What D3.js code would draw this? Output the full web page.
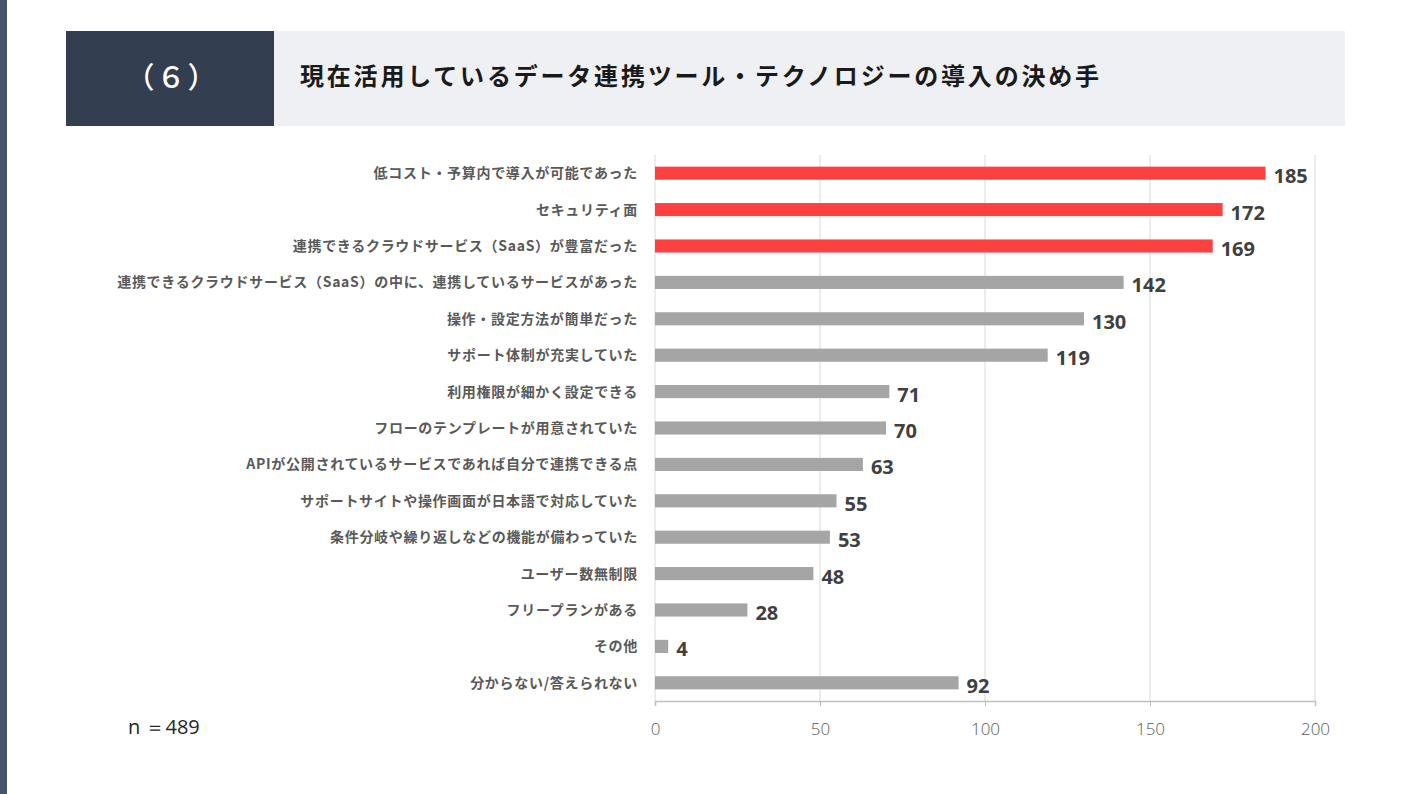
<!DOCTYPE html>
<html>
<head>
<meta charset="utf-8">
<script src="https://cdn.jsdelivr.net/npm/d3@7"></script>
<style>
  html, body { margin: 0; padding: 0; background: #fff; }
  svg { display: block; font-family: "Noto Sans CJK JP", "Noto Sans", sans-serif; }
</style>
</head>
<body>
<svg id="chart"></svg>
<script>
const CATEGORIES = [
  '低コスト・予算内で導入が可能であった',
  'セキュリティ面',
  '連携できるクラウドサービス（SaaS）が豊富だった',
  '連携できるクラウドサービス（SaaS）の中に、連携しているサービスがあった',
  '操作・設定方法が簡単だった',
  'サポート体制が充実していた',
  '利用権限が細かく設定できる',
  'フローのテンプレートが用意されていた',
  'APIが公開されているサービスであれば自分で連携できる点',
  'サポートサイトや操作画面が日本語で対応していた',
  '条件分岐や繰り返しなどの機能が備わっていた',
  'ユーザー数無制限',
  'フリープランがある',
  'その他',
  '分からない/答えられない'
];
const VALUES = [185, 172, 169, 142, 130, 119, 71, 70, 63, 55, 53, 48, 28, 4, 92];
const HIGHLIGHT = [true, true, true, false, false, false, false, false, false, false, false, false, false, false, false];
const X_TICKS = [0, 50, 100, 150, 200];
const TITLE_NO = '（６）';
const TITLE = '現在活用しているデータ連携ツール・テクノロジーの導入の決め手';
const N_LABEL = 'n ＝489';

const W = 1411, H = 794;
const plot = {left: 655, right: 1315, top: 155, bottom: 701};

const svg = d3.select('#chart').attr('width', W).attr('height', H);

// left edge stripe
svg.append('rect').attr('x', 0).attr('y', 0).attr('width', 7).attr('height', H).attr('fill', '#44546a');

// header
svg.append('rect').attr('x', 274).attr('y', 31).attr('width', 1071).attr('height', 95).attr('fill', '#eff0f4');
svg.append('rect').attr('x', 66).attr('y', 31).attr('width', 208).attr('height', 95).attr('fill', '#333f50');
svg.append('text').text(TITLE_NO)
  .attr('x', 172).attr('y', 78).attr('dy', '0.35em')
  .attr('text-anchor', 'middle').attr('fill', '#fff')
  .attr('font-size', 29).attr('font-weight', 500).attr('letter-spacing', 2);
svg.append('text').text(TITLE)
  .attr('x', 300).attr('y', 77).attr('dy', '0.35em')
  .attr('fill', '#1a1a1a').attr('font-size', 24).attr('font-weight', 700)
  .attr('letter-spacing', 2.8);

const x = d3.scaleLinear().domain([0, 200]).range([plot.left, plot.right]);
const y = d3.scaleBand().domain(CATEGORIES).range([plot.top, plot.bottom]).paddingInner(0.64).paddingOuter(0.32);

// gridlines
svg.append('g').selectAll('line').data(X_TICKS).enter().append('line')
  .attr('x1', d => x(d)).attr('x2', d => x(d))
  .attr('y1', plot.top).attr('y2', plot.bottom)
  .attr('stroke', '#d9d9d9').attr('stroke-width', 1);

// bottom axis
const axis = svg.append('g').attr('transform', `translate(0,${plot.bottom})`)
  .call(d3.axisBottom(x).tickValues(X_TICKS).tickSize(5).tickPadding(17));
axis.select('.domain').attr('stroke', '#bfbfbf').attr('stroke-width', 1.5);
axis.selectAll('.tick line').attr('stroke', '#bfbfbf');
axis.selectAll('.tick text').attr('fill', '#595959').attr('font-size', 17).attr('font-weight', 300)
  .attr('font-family', '"Open Sans", "Noto Sans", sans-serif');

// bars
svg.append('g').selectAll('rect').data(CATEGORIES).enter().append('rect')
  .attr('x', x(0))
  .attr('y', d => y(d))
  .attr('width', (d, i) => x(VALUES[i]) - x(0))
  .attr('height', y.bandwidth())
  .attr('fill', (d, i) => HIGHLIGHT[i] ? '#ff4040' : '#a5a5a5');

// value labels
svg.append('g').selectAll('text').data(CATEGORIES).enter().append('text')
  .text((d, i) => VALUES[i])
  .attr('x', (d, i) => x(VALUES[i]) + 8)
  .attr('y', d => y(d) + y.bandwidth() / 2 + 3)
  .attr('dy', '0.35em')
  .attr('fill', '#404040').attr('font-size', 20).attr('font-weight', 700)
  .attr('font-family', '"Open Sans", "Noto Sans", sans-serif');

// category labels
svg.append('g').selectAll('text').data(CATEGORIES).enter().append('text')
  .text(d => d)
  .attr('x', 638)
  .attr('y', d => y(d) + y.bandwidth() / 2)
  .attr('dy', '0.35em')
  .attr('text-anchor', 'end')
  .attr('fill', '#595959').attr('font-size', 14).attr('font-weight', 700)
  .attr('letter-spacing', 0.7);

// sample size
svg.append('text').text(N_LABEL)
  .attr('x', 128).attr('y', 727).attr('dy', '0.35em')
  .attr('fill', '#262626').attr('font-size', 20)
  .attr('font-family', '"Open Sans", "Noto Sans", sans-serif');
</script>
</body>
</html>
